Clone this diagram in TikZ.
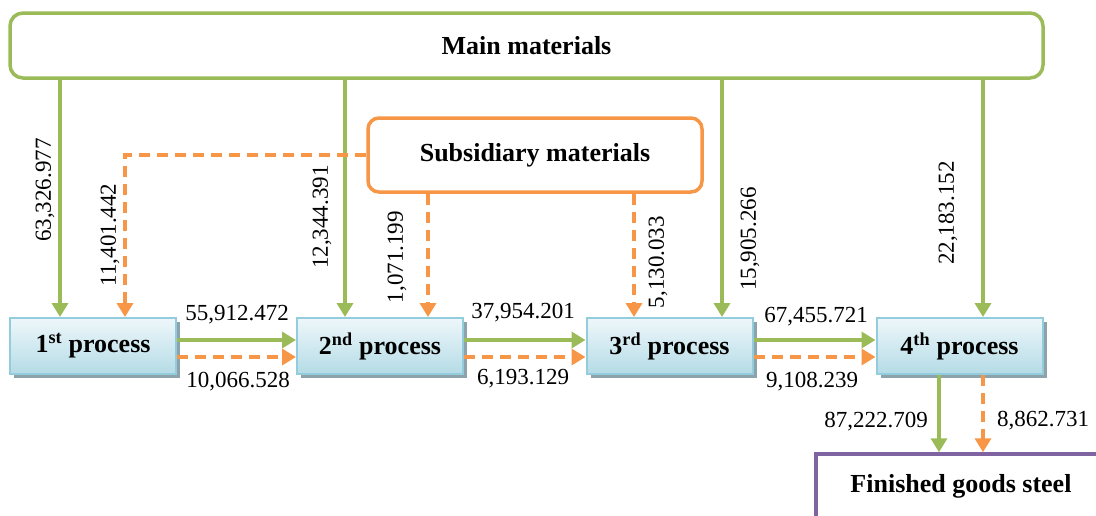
\documentclass[tikz,border=0pt]{standalone}
\usepackage{fontspec}
\setmainfont{Liberation Serif}
\usetikzlibrary{arrows.meta,shadows}
\definecolor{maingreen}{HTML}{9BBB59}
\definecolor{suborange}{HTML}{F79646}
\definecolor{finpurple}{HTML}{8064A2}
\definecolor{procline}{HTML}{93CDDD}
\definecolor{proctop}{HTML}{EEF7FA}
\definecolor{procbot}{HTML}{B4DBE6}
\definecolor{procshadow}{HTML}{8DA3AB}

\begin{document}
\begin{tikzpicture}[
 x=1pt,y=-1pt,
 bigbox/.style={draw,line width=3.5pt,rounded corners=13pt,fill=white,
             font=\fontsize{26}{30}\selectfont\bfseries},
 proc/.style={draw=procline,line width=2pt,top color=proctop,bottom color=procbot,
             minimum width=166pt,minimum height=56pt,
             font=\fontsize{26}{30}\selectfont\bfseries,
             drop shadow={shadow xshift=4pt,shadow yshift=-4pt,fill=procshadow,opacity=1}},
 flow/.style={-{Triangle[length=14pt,width=16pt]},line width=3.5pt,draw=maingreen},
 subflow/.style={flow,draw=suborange,dash pattern=on 11pt off 7pt},
 num/.style={font=\fontsize{23}{27}\selectfont,inner sep=1pt},
 vnum/.style={num,rotate=90}]
\useasboundingbox (0,0) rectangle (1096,515);
% sources
\node[bigbox,draw=maingreen,minimum width=1033pt,minimum height=65pt] (main) at (526.5,45.5) {Main materials};
\node[bigbox,draw=suborange,rounded corners=11pt,minimum width=334pt,minimum height=74pt] (sub) at (535,155) {Subsidiary materials};
% processes
\node[proc] (p1) at (93,346) {\raisebox{-2pt}{1\textsuperscript{st} process}};
\node[proc] (p2) at (380,346) {\raisebox{-2pt}{2\textsuperscript{nd} process}};
\node[proc] (p3) at (669.5,346) {\raisebox{-2pt}{3\textsuperscript{rd} process}};
\node[proc] (p4) at (959.5,346) {\raisebox{-2pt}{4\textsuperscript{th} process}};
\node[draw=finpurple,line width=3.5pt,minimum width=290pt,minimum height=64pt,
      font=\fontsize{26}{30}\selectfont\bfseries] (fin) at (961,486) {Finished goods steel};
% column and row guides
\coordinate (m1) at (60,0);
\coordinate (m2) at (345,0);
\coordinate (m3) at (722,0);
\coordinate (m4) at (983,0);
\coordinate (s1) at (125,0);
\coordinate (s2) at (428,0);
\coordinate (s3) at (634,0);
\coordinate (h1) at (0,340);
\coordinate (h2) at (0,357);
\coordinate (f1) at (939,0);
\coordinate (f2) at (983,0);
% main materials
\draw[flow] (main.south -| m1) -- (p1.north -| m1);
\draw[flow] (main.south -| m2) -- (p2.north -| m2);
\draw[flow] (main.south -| m3) -- (p3.north -| m3);
\draw[flow] (main.south -| m4) -- (p4.north -| m4);
% subsidiary materials
\draw[subflow] (sub.west) -| (p1.north -| s1);
\draw[subflow] (sub.south -| s2) -- (p2.north -| s2);
\draw[subflow] (sub.south -| s3) -- (p3.north -| s3);
% transfers
\draw[flow] (p1.east |- h1) -- (p2.west |- h1);
\draw[subflow] (p1.east |- h2) -- (p2.west |- h2);
\draw[flow] (p2.east |- h1) -- (p3.west |- h1);
\draw[subflow] (p2.east |- h2) -- (p3.west |- h2);
\draw[flow] (p3.east |- h1) -- (p4.west |- h1);
\draw[subflow] (p3.east |- h2) -- (p4.west |- h2);
\draw[flow] (p4.south -| f1) -- (fin.north -| f1);
\draw[subflow] (p4.south -| f2) -- (fin.north -| f2);
% values
\node[vnum] (v1) at (45,190) {63,326.977};
\node[vnum] (v2) at (110,235) {11,401.442};
\node[vnum] (v3) at (322,217) {12,344.391};
\node[vnum] (v4) at (397,257) {1,071.199};
\node[vnum] (v5) at (658,262) {5,130.033};
\node[vnum] (v6) at (750,239) {15,905.266};
\node[vnum] (v7) at (948,213) {22,183.152};
\node[num] (t1) at (237,315) {55,912.472};
\node[num] (t2) at (238,382) {10,066.528};
\node[num] (t3) at (523,313) {37,954.201};
\node[num] (t4) at (523,379) {6,193.129};
\node[num] (t5) at (816,317) {67,455.721};
\node[num] (t6) at (812,382) {9,108.239};
\node[num] (t7) at (876,422) {87,222.709};
\node[num] (t8) at (1043,421) {8,862.731};
\end{tikzpicture}
\end{document}
